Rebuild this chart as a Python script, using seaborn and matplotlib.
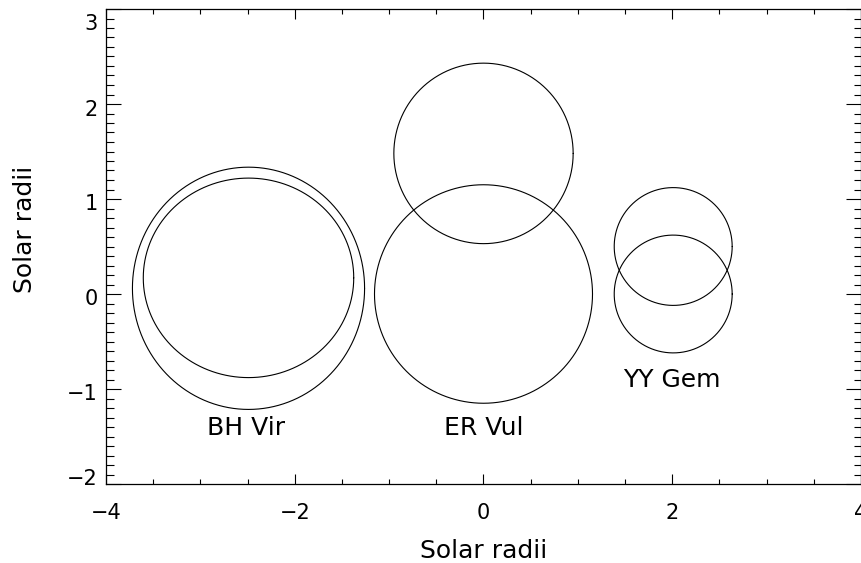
import numpy as np
import pandas as pd
import matplotlib
matplotlib.use("Agg")
import matplotlib.pyplot as plt
import matplotlib.transforms as mtransforms
from matplotlib.ticker import MultipleLocator
import seaborn as sns

# ---- data (solar radii) ----
star_ids = ["BH Vir A", "BH Vir B", "ER Vul A", "ER Vul B", "YY Gem A", "YY Gem B"]
center_x = [-2.49, -2.49, 0.0, 0.0, 2.01, 2.01]
center_y = [0.06, 0.17, 0.0, 1.48, 0.0, 0.50]
radius_x = [1.23, 1.115, 1.155, 0.95, 0.625, 0.625]
radius_y = [1.275, 1.05, 1.15, 0.95, 0.62, 0.62]

system_names = ["BH Vir", "ER Vul", "YY Gem"]
label_x = [-2.52, 0.0, 2.0]
label_y = [-1.41, -1.41, -0.91]

x_ticks = [-4, -2, 0, 2, 4]
y_ticks = [-2, -1, 0, 1, 2, 3]

sns.set_theme(style="ticks")
plt.rcParams["font.family"] = ["DejaVu Sans"]

fig = plt.figure(figsize=(8.62, 5.63), dpi=100)
ax = fig.add_axes([106 / 862, 79 / 563, 755 / 862, 475 / 563])

theta = np.linspace(0, 2 * np.pi, 721)
parts = []
for sid, x0, y0, a, b in zip(star_ids, center_x, center_y, radius_x, radius_y):
    parts.append(pd.DataFrame({"star": sid,
                               "x": x0 + a * np.cos(theta),
                               "y": y0 + b * np.sin(theta)}))
df = pd.concat(parts, ignore_index=True)

sns.lineplot(data=df, x="x", y="y", units="star", estimator=None, sort=False,
             color="black", lw=0.8, ax=ax, legend=False)

for name, lx, ly in zip(system_names, label_x, label_y):
    ax.text(lx, ly, name, ha="center", va="center", fontsize=18, color="black")

ax.set_xlim(-4, 4)
ax.set_ylim(-2, 3)
ax.set_xticks(x_ticks)
ax.set_yticks(y_ticks)
ax.xaxis.set_minor_locator(MultipleLocator(0.5))
ax.yaxis.set_minor_locator(MultipleLocator(0.1))

ax.tick_params(which="both", direction="in", top=True, right=True,
               color="black", width=0.8, labelcolor="black")
ax.tick_params(axis="x", which="major", length=7, pad=14, labelsize=15)
ax.tick_params(axis="x", which="minor", length=3.6)
ax.tick_params(axis="y", which="major", length=10.8, pad=6, labelsize=15)
ax.tick_params(axis="y", which="minor", length=5.4)

for sp in ax.spines.values():
    sp.set_color("black")
    sp.set_linewidth(0.9)

ax.set_xlabel("Solar radii", fontsize=18, color="black")
ax.set_ylabel("Solar radii", fontsize=18, color="black")
ax.xaxis.label.set_va("center")
ax.yaxis.label.set_va("center")
ax.xaxis.set_label_coords(0.5, (484 - 551) / 475)
ax.yaxis.set_label_coords((25 - 106) / 755, (484 - 229) / 475)

# IDL-style vertical offsets of y tick labels (pixels, down positive)
offsets = [-7, 3, 3, 3, 4, 13]
fig.canvas.draw()
for lab, off in zip(ax.get_yticklabels(), offsets):
    lab.set_transform(lab.get_transform() +
                      mtransforms.ScaledTranslation(0, -off / 100, fig.dpi_scale_trans))

ax.set_facecolor("white")
fig.patch.set_facecolor("white")
fig.savefig("out.png", dpi=100)
